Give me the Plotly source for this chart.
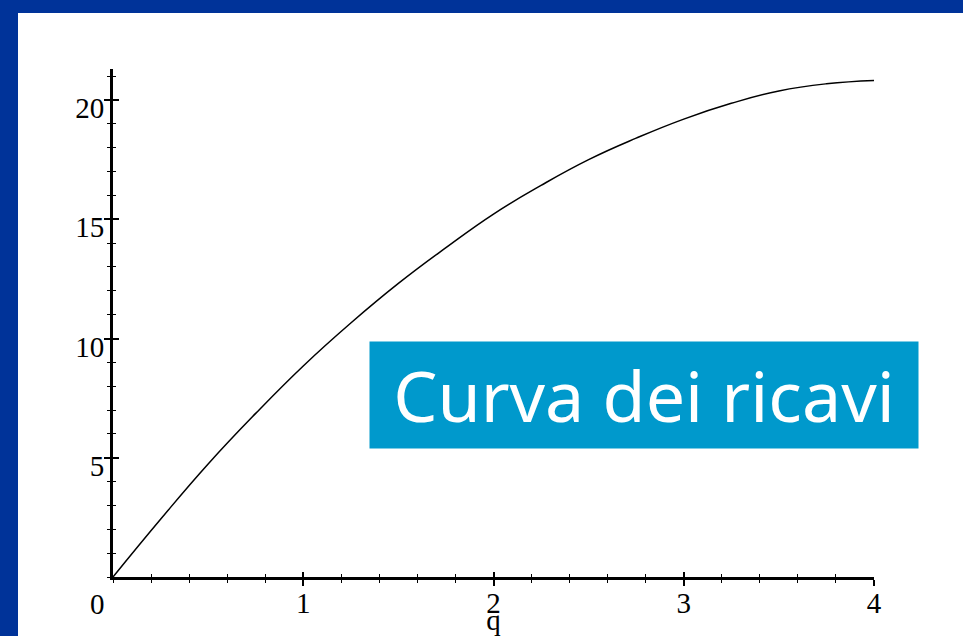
import plotly.graph_objects as go

# Revenue curve R(q), sampled every 0.25 units of quantity
q = [0, 0.25, 0.5, 0.75, 1.0, 1.25, 1.5, 1.75, 2.0, 2.25, 2.5, 2.75, 3.0, 3.25, 3.5, 3.75, 4.0]
ricavi = [0, 2.42, 4.74, 6.86, 8.85, 10.65, 12.31, 13.81, 15.22, 16.42, 17.50, 18.40, 19.20, 19.86, 20.38, 20.68, 20.82]

x_ticks = [1, 2, 3, 4]
x_ticktext = ["1", "2", "3", "4"]
y_ticks = [5, 10, 15, 20]
y_ticktext = ["5", "10", "15", "20"]
x_title = "q"
origin_label = "0"
caption = "Curva dei ricavi"

X_RANGE = [0, 4]
Y_RANGE = [0, 21.3]

W, H = 963, 636
ML, MR, MT, MB = 113, 89, 69, 59
FRAME = "#003399"
BOX = "#0099CC"
TICK_FONT = dict(family="Liberation Serif, Times New Roman, serif", size=29, color="black")

fig = go.Figure()
fig.add_trace(go.Scatter(
    x=q, y=ricavi, mode="lines",
    line=dict(color="black", width=1.5, shape="spline", smoothing=1.3),
    hoverinfo="skip", showlegend=False,
))
# companion trace for the overlay axes that carry the inner half of each tick
fig.add_trace(go.Scatter(
    x=q, y=ricavi, mode="lines", line=dict(color="rgba(0,0,0,0)", width=0),
    xaxis="x2", yaxis="y2", hoverinfo="skip", showlegend=False,
))

common_x = dict(range=X_RANGE, showgrid=False, zeroline=False, fixedrange=True, automargin=False)
common_y = dict(range=Y_RANGE, showgrid=False, zeroline=False, fixedrange=True, automargin=False)

fig.update_layout(
    width=W, height=H, autosize=False,
    margin=dict(l=ML, r=MR, t=MT, b=MB, pad=0),
    paper_bgcolor="white", plot_bgcolor="white",
    xaxis=dict(
        **common_x, showline=True, linecolor="black", linewidth=3,
        tickmode="array", tickvals=x_ticks, ticktext=x_ticktext,
        ticks="outside", ticklen=6, tickwidth=1.5, tickcolor="black",
        minor=dict(tickmode="linear", tick0=0, dtick=0.2, ticks="outside",
                   ticklen=3, tickwidth=1, tickcolor="black"),
        tickfont=TICK_FONT, ticklabelstandoff=-8,
        title=dict(text=x_title, font=TICK_FONT, standoff=2),
    ),
    yaxis=dict(
        **common_y, showline=True, linecolor="black", linewidth=3,
        tickmode="array", tickvals=y_ticks, ticktext=y_ticktext,
        ticks="outside", ticklen=6, tickwidth=1.5, tickcolor="black",
        minor=dict(tickmode="linear", tick0=0, dtick=1, ticks="outside",
                   ticklen=3, tickwidth=1, tickcolor="black"),
        tickfont=TICK_FONT, ticklabelstandoff=-6, ticklabelshift=8,
    ),
    xaxis2=dict(
        **common_x, overlaying="x", side="bottom", anchor="y2", showline=False,
        tickmode="array", tickvals=x_ticks, showticklabels=False,
        ticks="inside", ticklen=5, tickwidth=1.5, tickcolor="black",
        minor=dict(tickmode="linear", tick0=0, dtick=0.2, ticks="inside",
                   ticklen=3, tickwidth=1, tickcolor="black"),
    ),
    yaxis2=dict(
        **common_y, overlaying="y", side="left", anchor="x2", showline=False,
        tickmode="array", tickvals=y_ticks, showticklabels=False,
        ticks="inside", ticklen=6, tickwidth=1.5, tickcolor="black",
        minor=dict(tickmode="linear", tick0=0, dtick=1, ticks="inside",
                   ticklen=3, tickwidth=1, tickcolor="black"),
    ),
)

# origin label sitting below-left of the corner
fig.add_annotation(
    x=0, y=0, xref="x", yref="y", text=origin_label, showarrow=False,
    font=TICK_FONT, xshift=-16, yshift=-27,
)

# caption box
fig.add_annotation(
    x=0.6973, y=0.3578, xref="paper", yref="paper", text=caption, showarrow=False,
    font=dict(family="Noto Sans, DejaVu Sans, sans-serif", size=70, color="white"),
    bgcolor=BOX, width=548, height=106, borderpad=0,
    xanchor="center", yanchor="middle",
)

# dark blue frame along the top and left edges of the page
pw = W - ML - MR
ph = H - MT - MB
fig.add_shape(type="rect", xref="paper", yref="paper",
              x0=-ML / pw, x1=(18 - ML) / pw, y0=-MB / ph, y1=1 + MT / ph,
              fillcolor=FRAME, line=dict(width=0), layer="above")
fig.add_shape(type="rect", xref="paper", yref="paper",
              x0=-ML / pw, x1=1 + MR / pw, y0=1 + (MT - 13) / ph, y1=1 + MT / ph,
              fillcolor=FRAME, line=dict(width=0), layer="above")

fig.write_html("out.html")
